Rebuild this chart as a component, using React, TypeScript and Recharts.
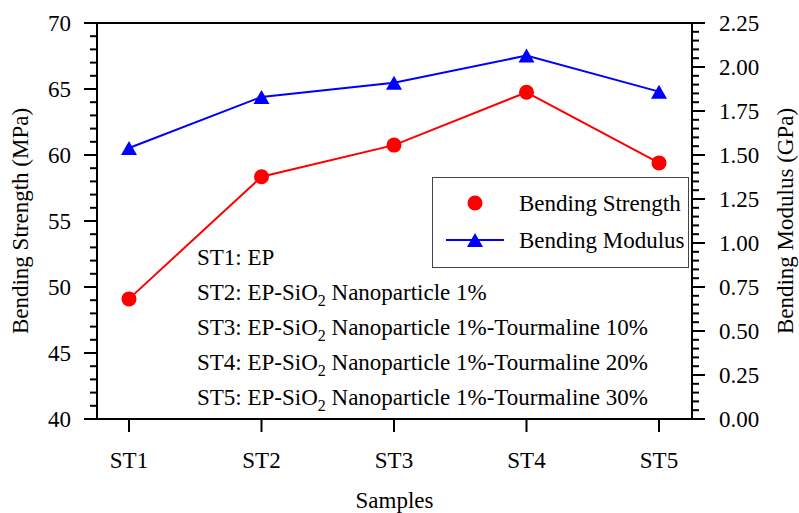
import React from "react";
import { ComposedChart, Line, XAxis, YAxis, Legend, ReferenceLine, Label } from "recharts";

const samples = ["ST1", "ST2", "ST3", "ST4", "ST5"];
const bendingStrength = [49.1, 58.35, 60.75, 64.75, 59.4];
const bendingModulus = [1.54, 1.83, 1.91, 2.065, 1.86];

const strengthTicks = [40, 45, 50, 55, 60, 65, 70];
const modulusTicks = [0, 0.25, 0.5, 0.75, 1.0, 1.25, 1.5, 1.75, 2.0, 2.25];

const sampleNotes = [
  "ST1: EP",
  "ST2: EP-SiO2 Nanoparticle 1%",
  "ST3: EP-SiO2 Nanoparticle 1%-Tourmaline 10%",
  "ST4: EP-SiO2 Nanoparticle 1%-Tourmaline 20%",
  "ST5: EP-SiO2 Nanoparticle 1%-Tourmaline 30%",
];

const data = samples.map((sample, i) => ({
  sample,
  strength: bendingStrength[i],
  modulus: bendingModulus[i],
}));

// minor ticks: 1 MPa and 0.05 GPa
const strengthMinor = Array.from({ length: 31 }, (_, i) => 40 + i);
const modulusMinor = Array.from({ length: 46 }, (_, i) => Math.round(i * 5) / 100);

const FONT = "'Liberation Serif', 'Times New Roman', serif";
const FS = 23;

const StrengthTick = (props: any) => {
  const { x, y, payload } = props;
  const major = strengthTicks.includes(payload.value);
  return (
    <g>
      <line x1={x} x2={x - (major ? 13 : 7)} y1={y} y2={y} stroke="#000" strokeWidth={2} />
      {major && (
        <text x={x - 26} y={y} dy="0.34em" textAnchor="end" fontFamily={FONT} fontSize={FS} fill="#000">
          {payload.value}
        </text>
      )}
    </g>
  );
};

const ModulusTick = (props: any) => {
  const { x, y, payload } = props;
  const major = modulusTicks.some((t) => Math.abs(t - payload.value) < 1e-6);
  return (
    <g>
      <line x1={x} x2={x + (major ? 13 : 7)} y1={y} y2={y} stroke="#000" strokeWidth={2} />
      {major && (
        <text x={x + 27} y={y} dy="0.34em" textAnchor="start" fontFamily={FONT} fontSize={FS} fill="#000">
          {payload.value.toFixed(2)}
        </text>
      )}
    </g>
  );
};

const SampleTick = (props: any) => {
  const { x, y, payload } = props;
  return (
    <text x={x} y={y + 36} textAnchor="middle" fontFamily={FONT} fontSize={FS} fill="#000">
      {payload.value}
    </text>
  );
};

const TriangleDot = (props: any) => {
  const { cx, cy, index } = props;
  if (cx == null || cy == null) return <g key={`tri-${index}`} />;
  return (
    <path
      key={`tri-${index}`}
      d={`M${cx},${cy - 7} L${cx + 8},${cy + 7} L${cx - 8},${cy + 7} Z`}
      fill="#0000ff"
    />
  );
};

const LegendBox = () => (
  <div style={{ width: 257, height: 91, border: "1.5px solid #444", boxSizing: "border-box", background: "#fff" }}>
    <svg width={254} height={88} style={{ display: "block" }}>
      <circle cx={42} cy={25} r={7.5} fill="#ff0000" />
      <text x={86} y={33} fontFamily={FONT} fontSize={FS} fill="#000">Bending Strength</text>
      <line x1={13} x2={71} y1={62} y2={62} stroke="#0000ff" strokeWidth={2} />
      <path d="M42,55 L50,69 L34,69 Z" fill="#0000ff" />
      <text x={86} y={70} fontFamily={FONT} fontSize={FS} fill="#000">Bending Modulus</text>
    </svg>
  </div>
);

const renderNote = (note: string) => {
  const parts = note.split("SiO2");
  if (parts.length === 1) return note;
  return (
    <>
      <tspan>{parts[0]}SiO</tspan>
      <tspan dy={6} fontSize={16}>2</tspan>
      <tspan dy={-6}>{parts[1]}</tspan>
    </>
  );
};

export default function App() {
  return (
    <div style={{ position: "absolute", left: 0, top: 0, width: 799, height: 513, background: "#fff" }}>
      <ComposedChart width={799} height={513} data={data} margin={{ top: 23, right: 0, bottom: 0, left: 0 }}>
        <XAxis
          dataKey="sample"
          type="category"
          padding={{ left: 32, right: 33 }}
          height={94}
          axisLine={{ stroke: "#000", strokeWidth: 2 }}
          tickLine={{ stroke: "#000", strokeWidth: 2 }}
          tickSize={13}
          tickMargin={0}
          tick={<SampleTick />}
          interval={0}
        >
          <Label
            content={({ viewBox }: any) => (
              <text
                x={viewBox.x + viewBox.width / 2}
                y={508}
                textAnchor="middle"
                fontFamily={FONT}
                fontSize={FS}
                fill="#000"
              >
                Samples
              </text>
            )}
          />
        </XAxis>
        <YAxis
          yAxisId="left"
          orientation="left"
          width={97}
          domain={[40, 70]}
          ticks={strengthMinor}
          interval={0}
          tickSize={0}
          tickMargin={0}
          tickLine={false}
          tick={<StrengthTick />}
          axisLine={{ stroke: "#000", strokeWidth: 2 }}
          allowDataOverflow
        >
          <Label
            content={({ viewBox }: any) => {
              const cy = viewBox.y + viewBox.height / 2;
              return (
                <text
                  x={28}
                  y={cy}
                  transform={`rotate(-90, 28, ${cy})`}
                  textAnchor="middle"
                  fontFamily={FONT}
                  fontSize={FS}
                  fill="#000"
                >
                  Bending Strength (MPa)
                </text>
              );
            }}
          />
        </YAxis>
        <YAxis
          yAxisId="right"
          orientation="right"
          width={107}
          domain={[0, 2.25]}
          ticks={modulusMinor}
          interval={0}
          tickSize={0}
          tickMargin={0}
          tickLine={false}
          tick={<ModulusTick />}
          axisLine={{ stroke: "#000", strokeWidth: 2 }}
          allowDataOverflow
        >
          <Label
            content={({ viewBox }: any) => {
              const cy = viewBox.y + viewBox.height / 2;
              return (
                <text
                  x={793}
                  y={cy}
                  transform={`rotate(-90, 793, ${cy})`}
                  textAnchor="middle"
                  fontFamily={FONT}
                  fontSize={FS}
                  fill="#000"
                >
                  Bending Modulus (GPa)
                </text>
              );
            }}
          />
        </YAxis>
        <ReferenceLine yAxisId="left" y={70} stroke="#000" strokeWidth={2} />
        <Line
          yAxisId="left"
          dataKey="strength"
          name="Bending Strength"
          stroke="#ff0000"
          strokeWidth={2}
          dot={{ r: 7.5, fill: "#ff0000", stroke: "#ff0000", strokeWidth: 0 }}
          activeDot={false}
          isAnimationActive={false}
        />
        <Line
          yAxisId="right"
          dataKey="modulus"
          name="Bending Modulus"
          stroke="#0000ff"
          strokeWidth={2}
          dot={TriangleDot}
          activeDot={false}
          isAnimationActive={false}
        />
        <Legend
          layout="horizontal"
          verticalAlign="middle"
          align="center"
          content={<LegendBox />}
          wrapperStyle={{ position: "absolute", left: 432, top: 177, width: 257, height: 91 }}
        />
      </ComposedChart>
      <svg width={799} height={513} style={{ position: "absolute", left: 0, top: 0, pointerEvents: "none" }}>
        {sampleNotes.map((note, i) => (
          <text key={note} x={197} y={265 + i * 35} fontFamily={FONT} fontSize={FS} fill="#000">
            {renderNote(note)}
          </text>
        ))}
      </svg>
    </div>
  );
}
